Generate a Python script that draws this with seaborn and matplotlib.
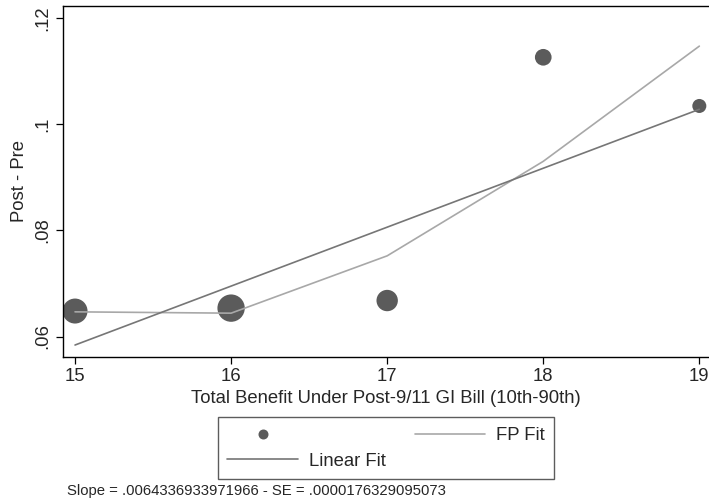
import matplotlib
matplotlib.use("Agg")
import matplotlib.pyplot as plt
import seaborn as sns
import pandas as pd
from matplotlib.lines import Line2D

# Data
benefit = [15, 16, 17, 18, 19]
post_minus_pre = [0.0648, 0.06535, 0.06678, 0.1126, 0.10343]
point_area = [324, 388, 237, 144, 102]          # marker areas (pt^2), reflect weights
fp_fit = [0.06465, 0.0644, 0.0752, 0.0930, 0.1147]
linear_fit = [0.0584, 0.0695, 0.0806, 0.0917, 0.1028]
x_ticks = [15, 16, 17, 18, 19]
y_ticks = [0.06, 0.08, 0.10, 0.12]
y_tick_labels = [".06", ".08", ".1", ".12"]
note = "Slope = .0064336933971966 - SE = .0000176329095073"

df = pd.DataFrame({"benefit": benefit, "diff": post_minus_pre, "area": point_area,
                   "fp": fp_fit, "lin": linear_fit})

sns.set_style("white")
plt.rcParams["font.family"] = ["Liberation Sans", "DejaVu Sans"]

dot_color = "#5b5b5b"
fp_color = "#a8a8a8"
lin_color = "#767676"
fs = 13.3

fig = plt.figure(figsize=(7.09, 5.04), dpi=100)
ax = fig.add_axes([62.7 / 709, 1 - 356.7 / 504, 1 - 62.7 / 709, (356.7 - 6) / 504])

sns.scatterplot(data=df, x="benefit", y="diff", size="area", sizes=(102, 388),
                size_norm=(102, 388), color=dot_color, edgecolor="none",
                legend=False, ax=ax, zorder=2)
sns.lineplot(data=df, x="benefit", y="fp", color=fp_color, lw=1.2, ax=ax, zorder=3)
sns.lineplot(data=df, x="benefit", y="lin", color=lin_color, lw=1.2, ax=ax, zorder=3)

ax.set_xlim(14.921, 19.062)
ax.set_ylim(0.0562, 0.12226)
ax.set_xticks(x_ticks)
ax.set_xticklabels([str(t) for t in x_ticks], fontsize=fs)
ax.set_yticks(y_ticks)
ax.set_yticklabels(y_tick_labels, fontsize=fs, rotation=90, va="center")
ax.tick_params(axis="both", direction="out", length=5, width=0.9, color="black",
               bottom=True, left=True, pad=3)
ax.tick_params(axis="x", pad=3)
for side in ["left", "bottom", "top"]:
    ax.spines[side].set_color("black")
    ax.spines[side].set_linewidth(1.0)
ax.spines["right"].set_visible(False)

ax.set_xlabel("Total Benefit Under Post-9/11 GI Bill (10th-90th)", fontsize=fs, labelpad=4)
ax.set_ylabel("Post - Pre", fontsize=fs, labelpad=5)

handles = [
    Line2D([], [], marker="o", linestyle="none", color=dot_color, markersize=7.2,
           markeredgewidth=0),
    Line2D([], [], color=lin_color, lw=1.2),
    Line2D([], [], color=fp_color, lw=1.2),
]
labels = ["", "Linear Fit", "FP Fit"]
leg = fig.legend(handles, labels, ncol=2, loc="upper center",
                 bbox_to_anchor=(386 / 709, 1 - 417.3 / 504), fontsize=fs,
                 frameon=True, fancybox=False, handlelength=3.8, handletextpad=0.6,
                 columnspacing=1.57, borderpad=0.53, labelspacing=0.46,
                 borderaxespad=0)
leg.get_frame().set_edgecolor("#333333")
leg.get_frame().set_linewidth(1.0)

fig.text(66.7 / 709, 1 - 491 / 504, note, fontsize=10.7, va="center", ha="left")

fig.savefig("out.png", dpi=100)
